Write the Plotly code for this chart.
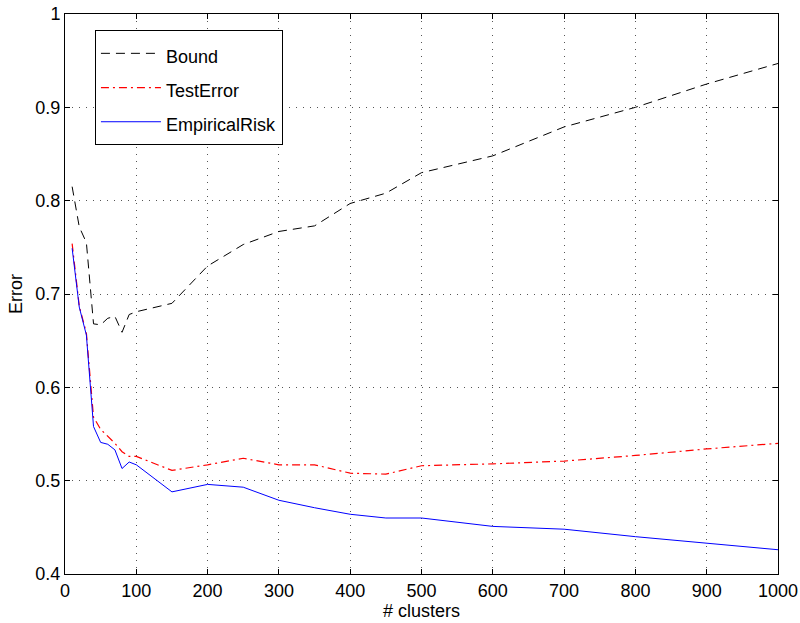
import plotly.graph_objects as go

clusters = [10, 20, 30, 40, 50, 60, 70, 80, 90, 100, 150, 200, 250, 300, 350, 400, 450, 500, 600, 700, 800, 900, 1000]
bound = [0.815, 0.772, 0.755, 0.668, 0.667, 0.674, 0.676, 0.659, 0.678, 0.681, 0.690, 0.730, 0.753, 0.767, 0.773, 0.797, 0.808, 0.830, 0.848, 0.879, 0.900, 0.925, 0.947]
test_error = [0.754, 0.687, 0.658, 0.568, 0.555, 0.548, 0.540, 0.531, 0.526, 0.526, 0.511, 0.517, 0.524, 0.517, 0.517, 0.508, 0.507, 0.516, 0.518, 0.521, 0.527, 0.534, 0.540]
empirical_risk = [0.749, 0.686, 0.656, 0.558, 0.541, 0.539, 0.533, 0.513, 0.520, 0.517, 0.488, 0.496, 0.493, 0.479, 0.471, 0.464, 0.460, 0.460, 0.451, 0.448, 0.440, 0.433, 0.426]
series_names = ["Bound", "TestError", "EmpiricalRisk"]

x_ticks = [0, 100, 200, 300, 400, 500, 600, 700, 800, 900, 1000]
y_ticks = [0.4, 0.5, 0.6, 0.7, 0.8, 0.9, 1.0]
y_tick_labels = ["0.4", "0.5", "0.6", "0.7", "0.8", "0.9", "1"]

FONT = "Liberation Sans, Arial, sans-serif"
FS = 18


def legend_name(s):
    return '<span style="font-size:%dpx">%s</span>' % (FS, s)


fig = go.Figure()
fig.add_trace(go.Scatter(x=clusters, y=bound, mode="lines", name=legend_name(series_names[0]),
                         line=dict(color="black", width=1, dash="9px,6px")))
fig.add_trace(go.Scatter(x=clusters, y=test_error, mode="lines", name=legend_name(series_names[1]),
                         line=dict(color="#ff0000", width=1.2, dash="8px,4px,2px,4px")))
fig.add_trace(go.Scatter(x=clusters, y=empirical_risk, mode="lines", name=legend_name(series_names[2]),
                         line=dict(color="#0000ff", width=1)))

axis_common = dict(
    showline=True, linecolor="black", linewidth=1, mirror="allticks",
    ticks="inside", ticklen=5, tickcolor="black",
    showgrid=True, gridcolor="#555", griddash="1px,6px", gridwidth=1,
    zeroline=False, automargin=False,
    tickfont=dict(family=FONT, size=FS, color="black"),
)

fig.update_xaxes(range=[0, 1000], tickvals=x_ticks, ticktext=[str(v) for v in x_ticks],
                 title=dict(text="# clusters", font=dict(family=FONT, size=FS, color="black"), standoff=2),
                 **axis_common)
fig.update_yaxes(range=[0.4, 1.0], tickvals=y_ticks, ticktext=y_tick_labels,
                 title=dict(text="Error", font=dict(family=FONT, size=FS, color="black"), standoff=8),
                 **axis_common)

fig.update_layout(
    width=800, height=623,
    margin=dict(l=65, r=22, t=14, b=49),
    paper_bgcolor="white", plot_bgcolor="white",
    font=dict(family=FONT, size=FS, color="black"),
    legend=dict(x=0.042, y=0.971, xanchor="left", yanchor="top",
                bgcolor="white", bordercolor="black", borderwidth=1,
                font=dict(size=24, family=FONT), itemwidth=60),
    showlegend=True,
)

fig.write_html("out.html", config={"displayModeBar": False},
               post_script="document.body.style.margin='0';document.body.style.overflow='hidden';")
